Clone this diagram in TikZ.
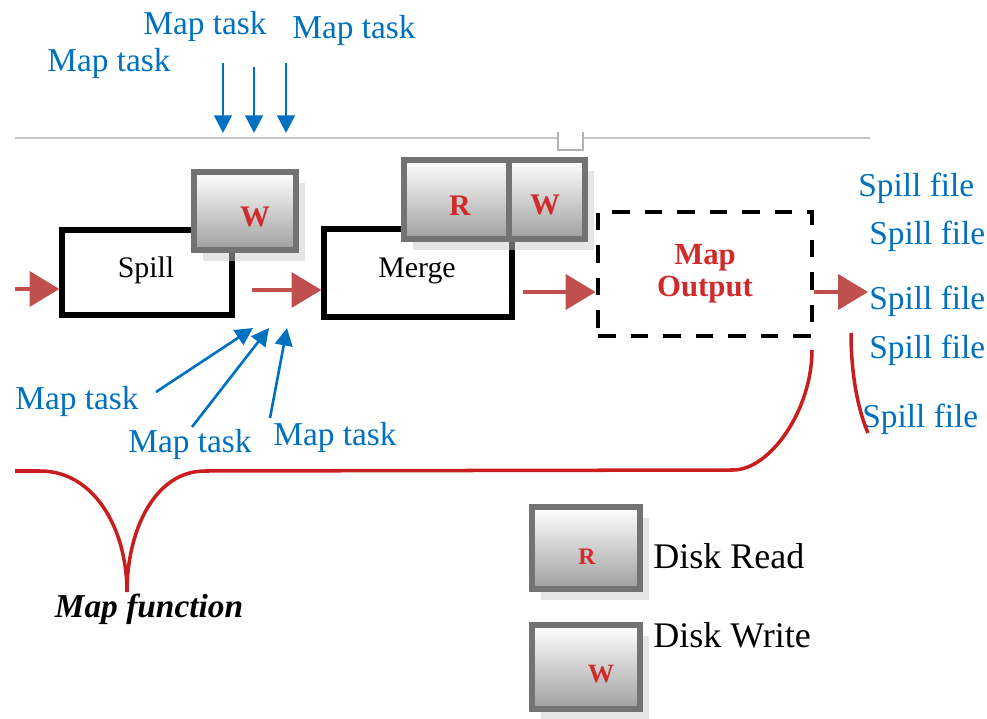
\documentclass[tikz,border=0pt]{standalone}
\usepackage{fontspec}
\setmainfont{Liberation Serif}
\usetikzlibrary{positioning, arrows.meta, shadows}

\definecolor{taskblue}{HTML}{0070C0}
\definecolor{flowred}{HTML}{C0504D}
\definecolor{bracered}{HTML}{C81E1E}
\definecolor{diskred}{HTML}{D02A2A}

\begin{document}
\begin{tikzpicture}[x=0.02cm, y=-0.02cm,
    phase/.style={draw=black, line width=3pt, fill=white, inner sep=0pt},
    disk/.style={draw=black!55, line width=3pt, top color=white, bottom color=gray!75,
      drop shadow={shadow xshift=5pt, shadow yshift=-6pt, fill=gray!40}, inner sep=0pt},
    disklbl/.style={text=diskred, anchor=base, inner sep=0pt},
    phaselbl/.style={font=\fontsize{17}{17}\selectfont, anchor=base, inner sep=0pt},
    tasklbl/.style={text=taskblue, font=\fontsize{19}{19}\selectfont, anchor=base west, inner sep=0pt},
    legendlbl/.style={font=\fontsize{20.5}{20.5}\selectfont, anchor=base west, inner sep=0pt},
    flow/.style={draw=flowred, line width=2pt, -{Triangle[length=17pt, width=20pt]}},
    taskarrow/.style={draw=taskblue, line width=1.5pt, -{Triangle[length=10pt, width=10pt]}}]
    \useasboundingbox (0,0) rectangle (987,719);

    % rule with notch
    \coordinate (rulel) at (15,138);
    \coordinate (ruler) at (870,138);
    \draw[gray!45, line width=1.1pt] (rulel) -- (ruler);
    \draw[gray!60, line width=1pt, fill=white] (558,132) -- (558,150) -- (583,150) -- (583,132);

    % phases
    \node[phase, minimum width=3.4cm, minimum height=1.7cm] (spill) at (147,272.5) {};
    \node[disk, minimum width=2.04cm, minimum height=1.56cm] (spillw) at (245,211) {};
    \node[phase, minimum width=3.76cm, minimum height=1.76cm] (merge) at (418,273) {};
    \node[disk, minimum width=2.1cm, minimum height=1.58cm] (merger) at (456.5,199.5) {};
    \node[disk, minimum width=1.52cm, minimum height=1.58cm] (mergew) at (547,199.5) {};
    \node[draw=black, line width=2.8pt, dash pattern=on 10pt off 8.5pt, minimum width=4.28cm,
      minimum height=2.48cm, align=center, text=diskred,
      font=\bfseries\fontsize{17.5}{18.2}\selectfont] (output) at (705,274) {Map\\Output};

    \node[phaselbl] (spilltxt) at (146,278) {Spill};
    \node[phaselbl] (mergetxt) at (417,278) {Merge};
    \node[disklbl, font=\bfseries\fontsize{17}{17}\selectfont] (spillwl) at (255,227) {W};
    \node[disklbl, font=\bfseries\fontsize{17}{17}\selectfont] (mergerl) at (460,216) {R};
    \node[disklbl, font=\bfseries\fontsize{17}{17}\selectfont] (mergewl) at (545,215) {W};

    % flow arrows
    \coordinate (in) at (15,289);
    \coordinate (a1) at (252,290);
    \coordinate (a2) at (523,292);
    \coordinate (out) at (868,292);
    \draw (in) edge[flow] (in -| spill.west);
    \draw (a1) edge[flow] (a1 -| merge.west);
    \draw (a2) edge[flow] (a2 -| output.west);
    \draw (out -| output.east) edge[flow] (out);

    % map tasks
    \node[tasklbl] (task1) at (47,72) {Map task};
    \node[tasklbl] (task2) at (143,35) {Map task};
    \node[tasklbl] (task3) at (292,39) {Map task};
    \node[tasklbl] (task4) at (15,409) {Map task};
    \node[tasklbl] (task5) at (128,452) {Map task};
    \node[tasklbl] (task6) at (273,445) {Map task};

    \foreach \x/\y [count=\i] in {223/63, 254/67, 286/63} {
      \coordinate (ts\i) at (\x,\y);
      \coordinate (te\i) at (\x,133);
    }
    \coordinate (bs1) at (156,392);
    \coordinate (be1) at (253,328);
    \coordinate (bs2) at (192,427);
    \coordinate (be2) at (269,328);
    \coordinate (bs3) at (270,418);
    \coordinate (be3) at (287,328);
    \foreach \i in {1,2,3} {
      \draw (ts\i) edge[taskarrow] (te\i);
      \draw (bs\i) edge[taskarrow] (be\i);
    }

    % spill files
    \node[tasklbl] (file1) at (858,197) {Spill file};
    \node[tasklbl] (file2) at (869,245) {Spill file};
    \node[tasklbl] (file3) at (869,310) {Spill file};
    \node[tasklbl] (file4) at (869,358) {Spill file};
    \node[tasklbl] (file5) at (862,427) {Spill file};

    % braces
    \draw[bracered, line width=2pt] (15,471) -- (40,471)
      .. controls (95,471) and (127,530) .. (127,592)
      .. controls (127,530) and (155,471) .. (205,471)
      -- (733,470) .. controls (770,470) and (812,410) .. (812,350);
    \draw[bracered, line width=2pt] (851,333) .. controls (851,380) and (860,415) .. (868,433);
    \node[font=\bfseries\itshape\fontsize{19}{19}\selectfont, anchor=base, inner sep=0pt]
      (mapfn) at (149,617) {Map function};

    % legend
    \node[disk, minimum width=2.16cm, minimum height=1.64cm] (legr) at (586,548) {};
    \node[disk, minimum width=2.16cm, minimum height=1.68cm] (legw) at (586,667) {};
    \node[disklbl, font=\bfseries\fontsize{13.5}{13.5}\selectfont] (legrl) at (587,564) {R};
    \node[disklbl, font=\bfseries\fontsize{15}{15}\selectfont] (legwl) at (601,682) {W};
    \node[legendlbl] (readtxt) at (653,568) {Disk Read};
    \node[legendlbl] (writetxt) at (653,647) {Disk Write};
  \end{tikzpicture}
\end{document}
